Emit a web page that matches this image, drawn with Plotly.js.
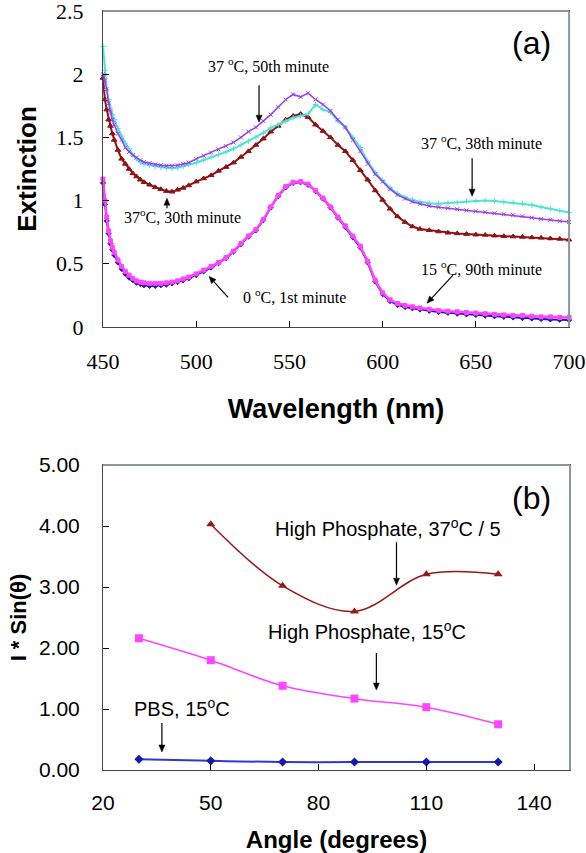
<!DOCTYPE html>
<html>
<head>
<meta charset="utf-8">
<script src="https://cdn.plot.ly/plotly-3.0.1.min.js"></script>
<style>html,body{margin:0;padding:0;background:#fff;}</style>
</head>
<body>
<div id="chart" style="width:586px;height:853px;"></div>
<script>
// ---------- Panel (a): extinction spectra ----------
const wavelength = [450,451,452,453,454,455,456,458,460,462,464,466,468,470,472,475,478,481,484,487,490,493,496,500,504,508,512,516,520,524,528,532,536,540,544,548,552,556,560,564,568,572,576,580,584,588,592,596,600,604,608,612,616,620,625,630,635,640,645,650,655,660,665,670,675,680,685,690,695,700];

const ext0C1min = [1.14,0.97,0.84,0.74,0.66,0.61,0.57,0.51,0.46,0.42,0.39,0.37,0.35,0.34,0.33,0.325,0.325,0.33,0.335,0.345,0.355,0.37,0.385,0.41,0.44,0.47,0.505,0.545,0.595,0.655,0.715,0.765,0.845,0.945,1.035,1.105,1.14,1.145,1.125,1.075,1.015,0.945,0.865,0.79,0.71,0.63,0.51,0.36,0.26,0.205,0.175,0.158,0.148,0.138,0.128,0.118,0.112,0.105,0.1,0.095,0.09,0.085,0.08,0.075,0.07,0.067,0.063,0.06,0.057,0.055];

const ext15C90min = [1.17,1.00,0.87,0.76,0.68,0.63,0.59,0.53,0.48,0.44,0.41,0.385,0.365,0.355,0.35,0.345,0.345,0.345,0.35,0.355,0.365,0.38,0.395,0.42,0.45,0.48,0.51,0.55,0.60,0.66,0.72,0.77,0.85,0.95,1.04,1.11,1.145,1.15,1.13,1.08,1.02,0.95,0.87,0.80,0.72,0.64,0.52,0.37,0.27,0.215,0.185,0.17,0.16,0.15,0.14,0.13,0.125,0.12,0.115,0.11,0.105,0.10,0.095,0.09,0.09,0.085,0.08,0.08,0.075,0.075];

const ext37C30min = [1.97,1.80,1.72,1.64,1.59,1.53,1.48,1.40,1.33,1.29,1.25,1.215,1.19,1.165,1.145,1.125,1.105,1.09,1.075,1.07,1.085,1.10,1.12,1.15,1.175,1.20,1.235,1.265,1.30,1.345,1.39,1.44,1.49,1.545,1.59,1.64,1.67,1.685,1.66,1.60,1.55,1.50,1.44,1.39,1.32,1.24,1.165,1.08,1.005,0.935,0.875,0.83,0.795,0.775,0.765,0.755,0.745,0.74,0.735,0.73,0.728,0.722,0.718,0.715,0.712,0.708,0.705,0.70,0.697,0.69];

const ext37C38min = [2.22,2.03,1.88,1.80,1.73,1.68,1.64,1.57,1.51,1.455,1.41,1.36,1.33,1.305,1.29,1.28,1.27,1.265,1.26,1.255,1.26,1.27,1.285,1.30,1.32,1.345,1.365,1.385,1.41,1.44,1.47,1.50,1.535,1.575,1.60,1.63,1.655,1.67,1.685,1.76,1.72,1.70,1.63,1.58,1.50,1.42,1.31,1.22,1.16,1.10,1.055,1.025,1.005,0.99,0.978,0.975,0.98,0.985,0.995,1.0,1.0,0.997,0.99,0.985,0.977,0.965,0.95,0.935,0.92,0.905];

const ext37C50min = [2.00,1.95,1.88,1.77,1.70,1.64,1.60,1.53,1.48,1.42,1.385,1.36,1.34,1.32,1.305,1.295,1.285,1.28,1.275,1.275,1.28,1.29,1.30,1.33,1.355,1.38,1.405,1.43,1.46,1.50,1.545,1.58,1.63,1.68,1.74,1.80,1.84,1.82,1.85,1.80,1.76,1.71,1.64,1.58,1.48,1.39,1.29,1.21,1.15,1.09,1.045,1.015,0.99,0.975,0.958,0.948,0.94,0.932,0.922,0.915,0.908,0.90,0.892,0.885,0.877,0.865,0.855,0.848,0.838,0.83];

// ---------- Panel (b): I*sin(theta) vs angle ----------
const angle = [30,50,70,90,110,130];
const angleHP37 = [50,70,90,110,130];
const pbs15C = [0.175,0.15,0.13,0.13,0.13,0.13];
const highP15C = [2.16,1.80,1.38,1.17,1.03,0.75];
const highP37C = [4.03,3.02,2.60,3.21,3.21];

const serif = 'Liberation Serif, Times New Roman, serif';
const sans = 'Liberation Sans, Arial, sans-serif';

function spec(y, color, symbol, size, lw, name){
  return {x: wavelength, y: y, type:'scatter', mode:'lines+markers', name:name,
    xaxis:'x', yaxis:'y', cliponaxis:false,
    line:{color:color, width:lw},
    marker:{color:color, symbol:symbol, size:size, line:{color:color, width:1}}};
}

const traces = [
  spec(ext0C1min, '#1a1aa8', 'diamond', 4, 2, '0 °C, 1st minute'),
  spec(ext15C90min, '#ff45ff', 'square', 4, 2.5, '15 °C, 90th minute'),
  spec(ext37C30min, '#8e1414', 'triangle-up', 5, 2, '37 °C, 30th minute'),
  spec(ext37C38min, '#4fe3d8', 'cross-thin', 4, 2, '37 °C, 38th minute'),
  spec(ext37C50min, '#9a3cf0', 'x-thin', 4, 1.5, '37 °C, 50th minute'),
  {x: angle, y: pbs15C, type:'scatter', mode:'lines+markers', name:'PBS, 15°C',
    xaxis:'x2', yaxis:'y2', cliponaxis:false,
    line:{color:'#3535d0', width:2, shape:'spline'},
    marker:{color:'#1818b0', symbol:'diamond', size:7}},
  {x: angle, y: highP15C, type:'scatter', mode:'lines+markers', name:'High Phosphate, 15°C',
    xaxis:'x2', yaxis:'y2', cliponaxis:false,
    line:{color:'#ff45ff', width:1.5, shape:'spline'},
    marker:{color:'#ff45ff', symbol:'square', size:8}},
  {x: angleHP37, y: highP37C, type:'scatter', mode:'lines+markers', name:'High Phosphate, 37°C / 5',
    xaxis:'x2', yaxis:'y2', cliponaxis:false,
    line:{color:'#981818', width:1.5, shape:'spline'},
    marker:{color:'#981818', symbol:'triangle-up', size:8}}
];

function ann(x, y, text, size, fam, xref, yref){
  return {x:x, y:y, xref:xref, yref:yref, text:text, showarrow:false,
    font:{family:fam, size:size, color:'#000'}};
}

// Arrow drawn as shapes: tip anchored at (x,y) in axis units; tail offset (dx,dy) in px (dy positive = down)
function arrowShapes(x, y, dx, dy, xref, yref){
  const tx = dx, ty = -dy;
  const L = Math.hypot(tx, ty);
  const ux = -tx / L, uy = -ty / L;
  const hl = 7, hw = 3;
  const bx = -ux * hl, by = -uy * hl;
  const px = -uy, py = ux;
  const base = {xref:xref, yref:yref, xsizemode:'pixel', ysizemode:'pixel', xanchor:x, yanchor:y, layer:'above'};
  return [
    Object.assign({}, base, {type:'line', x0:tx, y0:ty, x1:bx, y1:by, line:{color:'#000', width:1.2}}),
    Object.assign({}, base, {type:'path',
      path:`M0,0 L${(bx+px*hw).toFixed(2)},${(by+py*hw).toFixed(2)} L${(bx-px*hw).toFixed(2)},${(by-py*hw).toFixed(2)} Z`,
      fillcolor:'#000', line:{color:'#000', width:0.5}})
  ];
}

const annotations = [
  ann(539, 2.07, '37 <sup>o</sup>C, 50th minute', 16, serif, 'x', 'y'),
  ann(652.8, 1.465, '37 <sup>o</sup>C, 38th minute', 16, serif, 'x', 'y'),
  ann(492.9, 0.878, '37<sup>o</sup>C, 30th minute', 16, serif, 'x', 'y'),
  ann(552.5, 0.243, '0 <sup>o</sup>C, 1st minute', 16, serif, 'x', 'y'),
  ann(652.8, 0.47, '15 <sup>o</sup>C, 90th minute', 16, serif, 'x', 'y'),
  ann(680, 2.25, '(a)', 32, sans, 'x', 'y'),
  ann(99.2, 3.98, 'High Phosphate, 37<sup>o</sup>C / 5', 20, sans, 'x2', 'y2'),
  ann(93.6, 2.295, 'High Phosphate, 15<sup>o</sup>C', 20, sans, 'x2', 'y2'),
  ann(41.9, 1.02, 'PBS, 15<sup>o</sup>C', 20, sans, 'x2', 'y2'),
  ann(139.2, 4.46, '(b)', 32, sans, 'x2', 'y2')
];

const topDomX = [0, 0.998], topDomY = [0.5837, 1];
const botDomX = [0, 1], botDomY = [0, 0.4018];

const frame = '#8c97a2';
function frameLines(dx, dy){
  return [
    {type:'line', xref:'paper', yref:'paper', x0:dx[0], x1:dx[1], y0:dy[1], y1:dy[1], line:{color:frame, width:2}, layer:'above'},
    {type:'line', xref:'paper', yref:'paper', x0:dx[1], x1:dx[1], y0:dy[0], y1:dy[1], line:{color:frame, width:2}, layer:'above'}
  ];
}
const shapes = [].concat(
  frameLines(topDomX, topDomY),
  frameLines(botDomX, botDomY),
  arrowShapes(533.7, 1.62, 0, -37, 'x', 'y'),
  arrowShapes(648, 1.035, 0, -38, 'x', 'y'),
  arrowShapes(484.3, 1.019, 0, 10, 'x', 'y'),
  arrowShapes(506.9, 0.40, 19, 21, 'x', 'y'),
  arrowShapes(623.8, 0.188, 26, -28, 'x', 'y'),
  arrowShapes(101.7, 3.03, 0, -43, 'x2', 'y2'),
  arrowShapes(96.1, 1.31, 0, -37, 'x2', 'y2'),
  arrowShapes(36.4, 0.295, 0, -29, 'x2', 'y2')
);

const axCommon = {showgrid:false, zeroline:false, showline:true, linecolor:'#444', linewidth:1, mirror:true,
  ticks:'inside', ticklen:6, tickcolor:'#000', automargin:false, ticklabeloverflow:'allow'};

const layout = {
  width:586, height:853,
  margin:{l:103, r:16, t:11, b:83},
  paper_bgcolor:'#fff', plot_bgcolor:'#fff',
  showlegend:false,
  xaxis: Object.assign({}, axCommon, {domain:topDomX, anchor:'y', range:[450,700], tick0:450, dtick:50,
    tickfont:{family:serif, size:22, color:'#000'}, ticklabelstandoff:15,
    title:{text:'<b>Wavelength (nm)</b>', font:{family:sans, size:27, color:'#000'}, standoff:25}}),
  yaxis: Object.assign({}, axCommon, {domain:topDomY, anchor:'x', range:[0,2.5], tick0:0, dtick:0.5,
    tickfont:{family:serif, size:22, color:'#000'}, ticklabelstandoff:14,
    title:{text:'<b>Extinction</b>', font:{family:sans, size:26, color:'#000'}, standoff:11}}),
  xaxis2: Object.assign({}, axCommon, {domain:botDomX, anchor:'y2', range:[20,150], tick0:20, dtick:30,
    tickfont:{family:sans, size:21, color:'#000'}, ticklabelstandoff:14,
    title:{text:'<b>Angle (degrees)</b>', font:{family:sans, size:24, color:'#000'}, standoff:17}}),
  yaxis2: Object.assign({}, axCommon, {domain:botDomY, anchor:'x2', range:[0,5], tick0:0, dtick:1, tickformat:'.2f',
    tickfont:{family:sans, size:21, color:'#000'}, ticklabelstandoff:18,
    title:{text:'<b>I * Sin(θ)</b>', font:{family:sans, size:22, color:'#000'}, standoff:6}}),
  shapes: shapes,
  annotations: annotations
};

Plotly.newPlot('chart', traces, layout, {displayModeBar:false, staticPlot:true});
</script>
</body>
</html>
